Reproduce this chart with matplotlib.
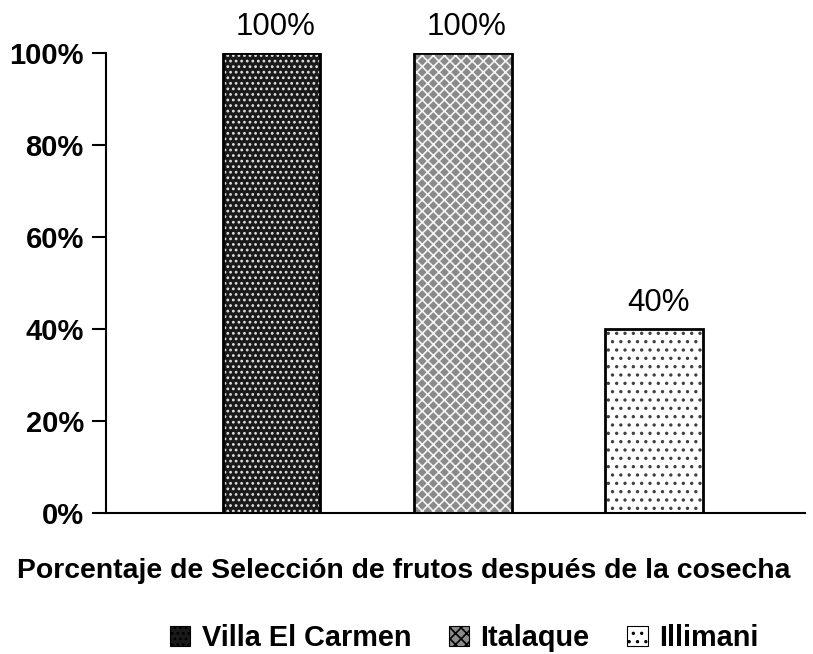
import matplotlib.pyplot as plt
from matplotlib.patches import Patch
from matplotlib.ticker import PercentFormatter

plt.rcParams['font.family'] = ['Liberation Sans', 'DejaVu Sans']
plt.rcParams['hatch.linewidth'] = 1.2

# --- data ---
sitios = ['Villa El Carmen', 'Italaque', 'Illimani']
valores = [100, 100, 40]
etiquetas = ['100%', '100%', '40%']
xlabel = 'Porcentaje de Selección de frutos después de la cosecha'

# fill colour, hatch colour, hatch
estilos = [
    ('#1a1a1a', '#e0e0e0', '...'),
    ('#8a8a8a', '#f4f4f4', 'xxx'),
    ('#ffffff', '#404040', '..'),
]

fig = plt.figure(figsize=(8.13, 6.54), dpi=100)
ax = fig.add_axes([0.1304, 0.2156, 0.860, 0.7034])

x = list(range(len(sitios)))
handles = []
for i, (nombre, v) in enumerate(zip(sitios, valores)):
    fc, hc, h = estilos[i]
    # pattern layer, then black outline on top
    ax.bar(x[i], v, width=0.51, color=fc, edgecolor=hc, hatch=h, linewidth=0, zorder=2)
    ax.bar(x[i], v, width=0.51, fill=False, edgecolor='black', linewidth=2, zorder=3)
    ax.annotate(etiquetas[i], (x[i], v), xytext=(3, 8), textcoords='offset points',
                ha='center', va='bottom', fontsize=22.5)
    handles.append(Patch(facecolor=fc, edgecolor=hc, hatch=h, linewidth=0, label=nombre))

ax.set_xlim(-0.866, 2.79)
ax.set_ylim(0, 100)
ax.set_yticks([0, 20, 40, 60, 80, 100])
ax.yaxis.set_major_formatter(PercentFormatter(decimals=0))
ax.set_xticks([])

for s in ['top', 'right']:
    ax.spines[s].set_visible(False)
ax.spines['left'].set_linewidth(1.5)
ax.spines['bottom'].set_linewidth(1.5)
ax.tick_params(axis='y', direction='out', length=10, width=1.5, pad=6)
for t in ax.get_yticklabels():
    t.set_fontsize(21)
    t.set_fontweight('bold')

fig.text(0.497, 0.127, xlabel, ha='center', va='center', fontsize=20.4, fontweight='bold')

leg = fig.legend(handles=handles, loc='center', bbox_to_anchor=(0.571, 0.024), ncol=3,
                 frameon=False, prop={'weight': 'bold', 'size': 20.8},
                 handlelength=0.7, handleheight=0.7, handletextpad=0.4, columnspacing=1.3)
for p in leg.get_patches():
    p.set_edgecolor('black')
    p.set_linewidth(0.8)

fig.savefig('out.png', dpi=100)
